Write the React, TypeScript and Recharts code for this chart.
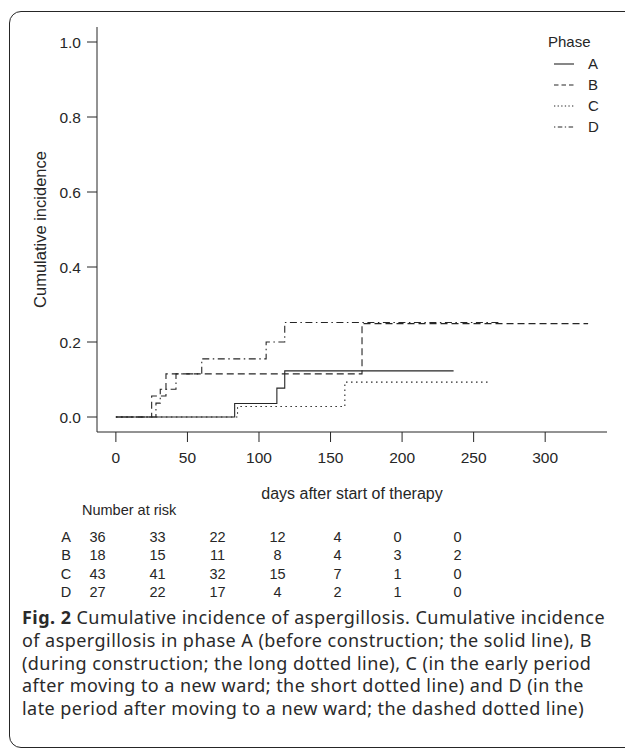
import React from 'react';
import { LineChart, Line, XAxis, YAxis, Legend } from 'recharts';

// ---- data ----
const phases = ['A', 'B', 'C', 'D'];

const daysA = [0, 83, 112.5, 118, 236];
const incA = [0, 0.036, 0.077, 0.123, 0.123];

const daysB = [0, 25, 35, 172, 330];
const incB = [0, 0.056, 0.115, 0.249, 0.249];

const daysC = [0, 85, 160, 261];
const incC = [0, 0.028, 0.093, 0.093];

const daysD = [0, 28, 31, 42, 60, 105, 118, 268];
const incD = [0, 0.037, 0.074, 0.115, 0.155, 0.2, 0.252, 0.252];

const xTicks = [0, 50, 100, 150, 200, 250, 300];
const yTicks = [0, 0.2, 0.4, 0.6, 0.8, 1.0];

const riskA = [36, 33, 22, 12, 4, 0, 0];
const riskB = [18, 15, 11, 8, 4, 3, 2];
const riskC = [43, 41, 32, 15, 7, 1, 0];
const riskD = [27, 22, 17, 4, 2, 1, 0];

const captionLines = [
  'Cumulative incidence of aspergillosis. Cumulative incidence',
  'of aspergillosis in phase A (before construction; the solid line), B',
  '(during construction; the long dotted line), C (in the early period',
  'after moving to a new ward; the short dotted line) and D (in the',
  'late period after moving to a new ward; the dashed dotted line)',
];

// ---- helpers ----
const toPoints = (days: number[], inc: number[]) => days.map((t, i) => ({ t, v: inc[i] }));

const seriesData = [toPoints(daysA, incA), toPoints(daysB, incB), toPoints(daysC, incC), toPoints(daysD, incD)];
const dashes = [undefined, '7 4', '1.5 3.5', '1.5 3.5 7 3.5'];
const legendDashes = [undefined, '4.5 3', '1.3 2.3', '1.3 2.5 4.5 2.5'];
const riskRows = [riskA, riskB, riskC, riskD];

const INK = '#262626';
const SANS = '"Liberation Sans", Arial, Helvetica, sans-serif';

const LegendBox = () => (
  <div style={{ position: 'relative', width: 80, height: 110, fontFamily: SANS, fontSize: 15, color: INK }}>
    <div style={{ position: 'absolute', left: 8, top: 2, lineHeight: '20px' }}>Phase</div>
    {phases.map((p, i) => (
      <div key={p} style={{ position: 'absolute', left: 0, top: 24 + i * 21, height: 20, width: 80 }}>
        <svg width={36} height={20} style={{ position: 'absolute', left: 10, top: 0 }}>
          <line x1={4} x2={24} y1={10} y2={10} stroke={INK} strokeWidth={1.1} strokeDasharray={legendDashes[i]} />
        </svg>
        <div style={{ position: 'absolute', left: 48, top: 0, lineHeight: '20px' }}>{p}</div>
      </div>
    ))}
  </div>
);

export default function App() {
  return (
    <div style={{ position: 'absolute', left: 0, top: 0, width: 625, height: 751, overflow: 'hidden', background: '#fff' }}>
      {/* figure frame */}
      <div
        style={{
          position: 'absolute',
          left: 9,
          top: 11,
          width: 660,
          height: 737,
          border: `1.5px solid ${INK}`,
          borderRadius: 12,
          boxSizing: 'border-box',
        }}
      />
      <div style={{ position: 'absolute', left: 0, top: 0 }}>
        <LineChart width={625} height={520} margin={{ top: 27, right: 18, left: 17, bottom: 58 }}>
          <XAxis
            type="number"
            dataKey="t"
            domain={[-13.2, 343.2]}
            ticks={xTicks}
            interval={0}
            allowDataOverflow
            height={30}
            tickSize={10}
            tickMargin={10}
            axisLine={{ stroke: INK, strokeWidth: 1 }}
            tickLine={{ stroke: INK, strokeWidth: 1 }}
            tick={{ fill: INK, fontSize: 15.5, fontFamily: SANS }}
            label={{
              value: 'days after start of therapy',
              position: 'bottom',
              offset: 26,
              style: { fill: INK, fontSize: 16, fontFamily: SANS },
            }}
          />
          <YAxis
            type="number"
            domain={[-0.04, 1.04]}
            ticks={yTicks}
            interval={0}
            allowDataOverflow
            width={80}
            tickSize={10}
            tickMargin={6}
            tickFormatter={(v: number) => v.toFixed(1)}
            axisLine={{ stroke: INK, strokeWidth: 1 }}
            tickLine={{ stroke: INK, strokeWidth: 1 }}
            tick={{ fill: INK, fontSize: 15.5, fontFamily: SANS }}
            label={{
              value: 'Cumulative incidence',
              angle: -90,
              position: 'insideLeft',
              offset: 23,
              style: { fill: INK, fontSize: 16.5, fontFamily: SANS, textAnchor: 'middle' },
            }}
          />
          <Legend
            layout="vertical"
            align="center"
            verticalAlign="middle"
            content={() => <LegendBox />}
            wrapperStyle={{ top: 30, left: 540, width: 80, height: 110 }}
          />
          {seriesData.map((d, i) => (
            <Line
              key={phases[i]}
              name={phases[i]}
              data={d}
              dataKey="v"
              type="stepAfter"
              stroke={INK}
              strokeWidth={1.1}
              strokeDasharray={dashes[i]}
              dot={false}
              activeDot={false}
              isAnimationActive={false}
            />
          ))}
        </LineChart>
      </div>

      {/* number at risk table */}
      <div style={{ position: 'absolute', left: 82, top: 501, fontFamily: SANS, fontSize: 14.5, color: INK, lineHeight: '18px' }}>
        Number at risk
      </div>
      {riskRows.map((row, r) => (
        <div key={phases[r]} style={{ position: 'absolute', left: 0, top: 528 + r * 18.4, height: 18, width: 625, fontFamily: SANS, fontSize: 14.5, color: INK, lineHeight: '18px' }}>
          <span style={{ position: 'absolute', left: 46, width: 40, textAlign: 'center' }}>{phases[r]}</span>
          {row.map((n, c) => (
            <span key={c} style={{ position: 'absolute', left: 77.5 + c * 60, width: 40, textAlign: 'center' }}>{n}</span>
          ))}
        </div>
      ))}

      {/* caption */}
      <div style={{ position: 'absolute', left: 22, top: 606, fontFamily: '"Noto Sans", "Open Sans", sans-serif', fontSize: 18, letterSpacing: 0.45, lineHeight: '22.8px', color: '#2a2a2a', whiteSpace: 'nowrap' }}>
        {captionLines.map((l, i) => (
          <div key={i}>
            {i === 0 && <b style={{ fontWeight: 700 }}>Fig. 2 </b>}
            {l}
          </div>
        ))}
      </div>
    </div>
  );
}
